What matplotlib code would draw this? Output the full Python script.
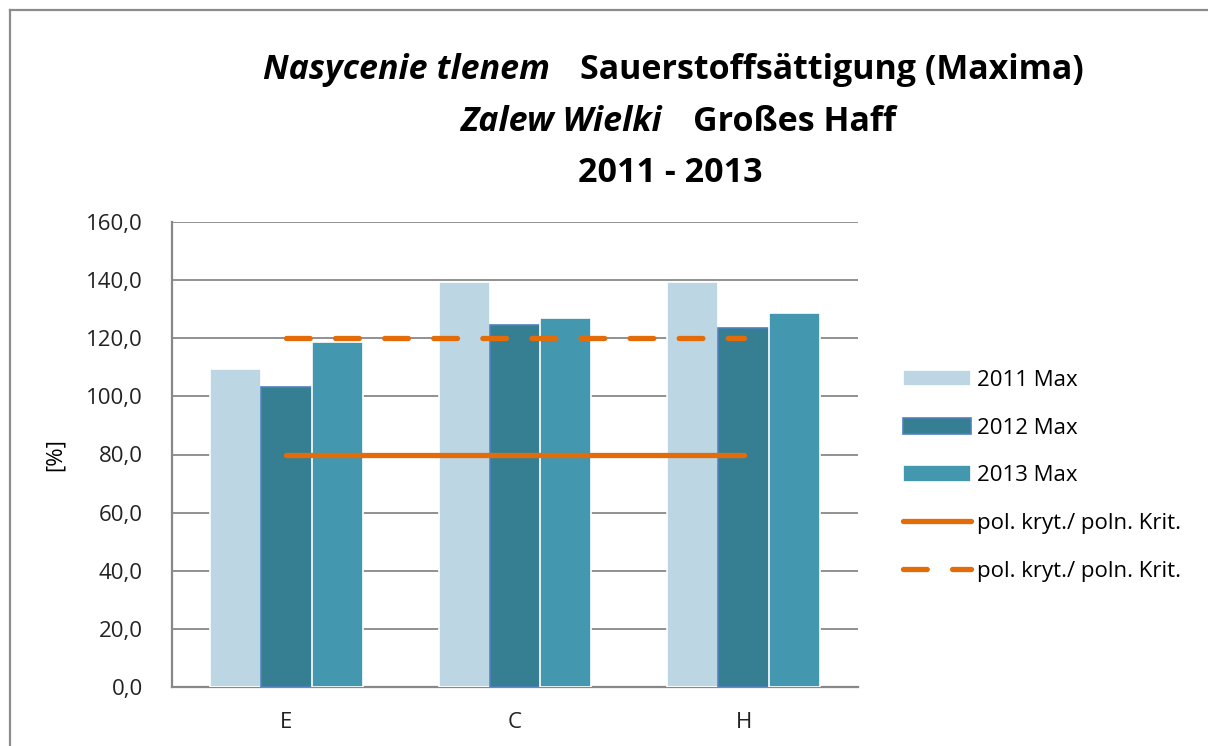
import numpy as np
import matplotlib.pyplot as plt
from matplotlib.lines import Line2D

plt.rcParams['font.family'] = ['Open Sans', 'DejaVu Sans']

# dane
stations = ['E', 'C', 'H']
max_2011 = [109.5, 139.5, 139.5]
max_2012 = [103.3, 124.5, 123.5]
max_2013 = [118.7, 127.0, 128.7]
crit_solid = [80.0, 80.0, 80.0]
crit_dash = [120.0, 120.0, 120.0]
series_labels = ['2011 Max', '2012 Max', '2013 Max']
crit_label = 'pol. kryt./ poln. Krit.'

W, H = 1208, 746
fig = plt.figure(figsize=(W / 100, H / 100), dpi=100)

# ramka wykresu (wychodzi poza obraz z prawej i u dołu)
fig.add_artist(Line2D([10 / W, 10 / W], [1 - 10 / H, -0.1], transform=fig.transFigure,
                      color='#8c8c8c', lw=1.6))
fig.add_artist(Line2D([10 / W, 1.1], [1 - 10 / H, 1 - 10 / H], transform=fig.transFigure,
                      color='#8c8c8c', lw=1.6))

ax = fig.add_axes([172 / W, 1 - 687 / H, (858 - 172) / W, (687 - 222) / H])

x = np.arange(len(stations))
bw = 0.223
b1 = ax.bar(x - bw, max_2011, bw, color='#bcd7e3', edgecolor='white', linewidth=1.2, zorder=3)
b2 = ax.bar(x, max_2012, bw, color='#367f93', edgecolor='#4f81bd', linewidth=1.2, zorder=3)
b3 = ax.bar(x + bw, max_2013, bw, color='#4398b0', edgecolor='white', linewidth=1.2, zorder=3)

l1, = ax.plot(x, crit_solid, color='#e36c09', lw=3.8, solid_capstyle='round', zorder=4)
l2, = ax.plot(x, crit_dash, color='#e36c09', lw=3.8, dashes=(4.5, 4.8), dash_capstyle='round',
              zorder=4)

ax.set_xlim(-0.5, 2.5)
ax.set_ylim(0, 160)
ax.set_yticks(np.arange(0, 161, 20))
ax.set_yticklabels([f'{v:.1f}'.replace('.', ',') for v in np.arange(0, 161, 20)])
ax.set_xticks(x)
ax.set_xticklabels(stations)
ax.tick_params(axis='both', labelsize=16, colors='#222222', length=0)
ax.tick_params(axis='y', pad=21)
ax.tick_params(axis='x', pad=18)
ax.grid(axis='y', color='#888888', lw=1.3, zorder=0)
for s in ['top', 'right']:
    ax.spines[s].set_visible(False)
for s in ['left', 'bottom']:
    ax.spines[s].set_color('#888888')
    ax.spines[s].set_linewidth(1.6)
ax.set_ylabel('[%]', fontsize=16, labelpad=15)

ax.legend([b1, b2, b3, l1, l2], series_labels + [crit_label, crit_label],
          loc='upper left', bbox_to_anchor=(883 / W, 1 - 350 / H),
          bbox_transform=fig.transFigure, frameon=False, fontsize=16,
          handlelength=3.05, handleheight=0.75, handletextpad=0.3, labelspacing=1.2)

# tytuł
fs = 24.5
fig.text(550 / W, 1 - 79 / H, 'Nasycenie tlenem', ha='right', va='baseline', fontsize=fs,
         style='italic', fontweight='bold')
fig.text(580 / W, 1 - 79 / H, 'Sauerstoffsättigung (Maxima)', ha='left', va='baseline',
         fontsize=fs, fontweight='bold')
fig.text(662 / W, 1 - 131 / H, 'Zalew Wielki', ha='right', va='baseline', fontsize=fs,
         style='italic', fontweight='bold')
fig.text(693 / W, 1 - 131 / H, 'Großes Haff', ha='left', va='baseline', fontsize=fs,
         fontweight='bold')
fig.text(670 / W, 1 - 182 / H, '2011 - 2013', ha='center', va='baseline', fontsize=fs,
         fontweight='bold')

fig.savefig('out.png', dpi=100)
